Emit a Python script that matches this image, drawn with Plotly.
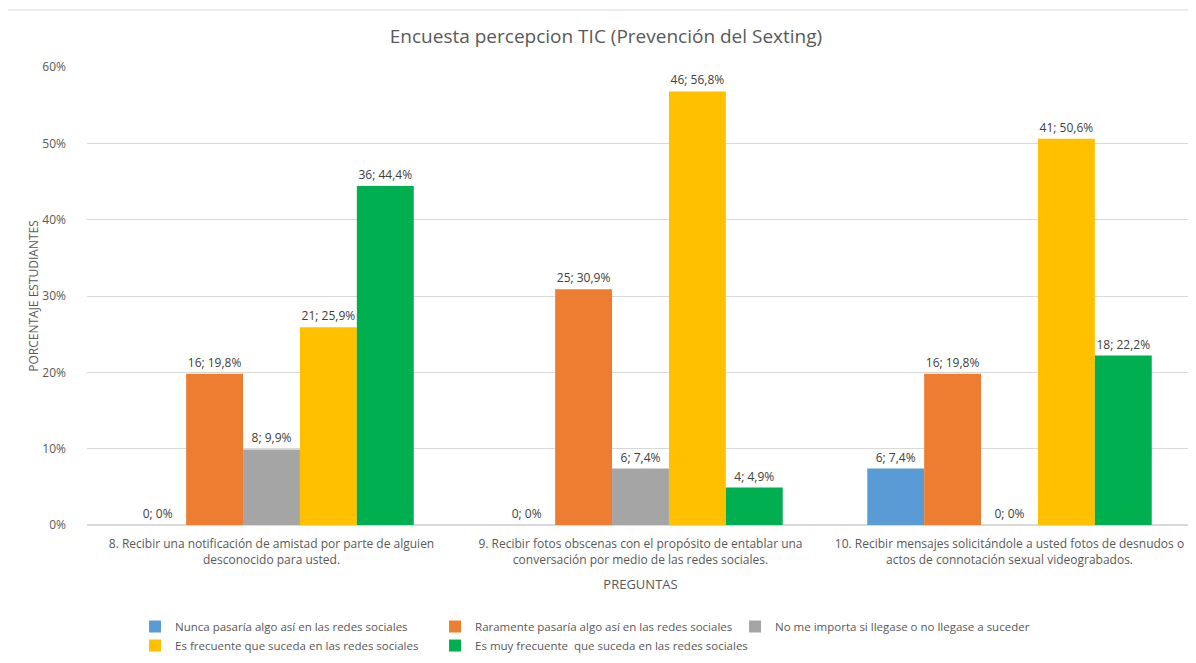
import plotly.graph_objects as go

preguntas = [
    "8. Recibir una notificación de amistad por parte de alguien<br>desconocido para usted.",
    "9. Recibir fotos obscenas con el propósito de entablar una<br>conversación por medio de las redes sociales.",
    "10. Recibir mensajes solicitándole a usted fotos de desnudos o<br>actos de connotación sexual videograbados.",
]

respuestas = [
    "Nunca pasaría algo así en las redes sociales",
    "Raramente pasaría algo así en las redes sociales",
    "No me importa si llegase o no llegase a suceder",
    "Es frecuente que suceda en las redes sociales",
    "Es muy frecuente  que suceda en las redes sociales",
]

# conteos y porcentajes por respuesta (una lista por pregunta 8, 9, 10)
nunca_n = [0, 0, 6]
nunca_pct = [0, 0, 7.4]
raramente_n = [16, 25, 16]
raramente_pct = [19.8, 30.9, 19.8]
no_importa_n = [8, 6, 0]
no_importa_pct = [9.9, 7.4, 0]
frecuente_n = [21, 46, 41]
frecuente_pct = [25.9, 56.8, 50.6]
muy_frecuente_n = [36, 4, 18]
muy_frecuente_pct = [44.4, 4.9, 22.2]

colores = ["#5B9BD5", "#ED7D31", "#A5A5A5", "#FFC000", "#00B050"]

conteos = [nunca_n, raramente_n, no_importa_n, frecuente_n, muy_frecuente_n]
porcentajes = [nunca_pct, raramente_pct, no_importa_pct, frecuente_pct, muy_frecuente_pct]


def etiqueta(n, p):
    p_txt = "0" if p == 0 else f"{p:.1f}".replace(".", ",")
    return f"{n}; {p_txt}%"


fig = go.Figure()
for nombre, color, ns, ps in zip(respuestas, colores, conteos, porcentajes):
    fig.add_trace(go.Bar(
        name=nombre, x=preguntas, y=ps,
        marker=dict(color=color, line=dict(width=0)),
        text=[etiqueta(n, p) for n, p in zip(ns, ps)],
        textposition="outside", cliponaxis=False,
        textfont=dict(size=12, color="#404040"),
    ))

# la página html deja 8px de margen en el body, se compensa aquí
fig.update_layout(
    width=1196, height=663,
    barmode="group", bargap=0.229, bargroupgap=0,
    paper_bgcolor="white", plot_bgcolor="white",
    font=dict(family="Open Sans, sans-serif", size=12, color="#595959"),
    title=dict(text="Encuesta percepcion TIC (Prevención del Sexting)",
               x=0.5, xanchor="center", y=0.957, yanchor="middle",
               font=dict(size=19, color="#595959")),
    margin=dict(l=79, r=10, t=59, b=146, autoexpand=False),
    legend=dict(orientation="h", x=0.0434, xanchor="left", y=-0.19, yanchor="top",
                entrywidth=255, font=dict(size=11.5, color="#595959"),
                itemwidth=30, traceorder="normal"),
    # marco del gráfico (recortado por la derecha y abajo, como en el original)
    shapes=[dict(type="rect", xref="paper", yref="paper",
                 x0=-0.0723, x1=1.02, y0=-0.317, y1=1.1245,
                 line=dict(color="#D9D9D9", width=1), layer="below")],
)

fig.update_yaxes(range=[0, 60], dtick=10, ticksuffix="%",
                 showgrid=True, gridcolor="#D9D9D9", zeroline=True, zerolinecolor="#D9D9D9",
                 showline=False, ticks="", ticklabelstandoff=20,
                 tickfont=dict(size=12, color="#595959"),
                 title=dict(text="PORCENTAJE ESTUDIANTES", standoff=0,
                            font=dict(size=12, color="#595959")))
fig.update_xaxes(showline=True, linecolor="#D9D9D9", ticks="", ticklabelstandoff=8,
                 tickfont=dict(size=12, color="#595959"),
                 title=dict(text="PREGUNTAS", standoff=12, font=dict(size=13, color="#595959")))

fig.write_html("out.html")
